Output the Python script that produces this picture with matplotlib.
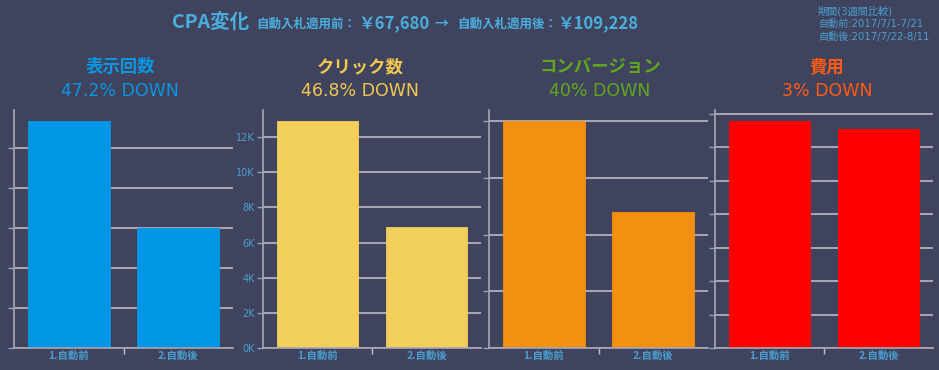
import matplotlib
matplotlib.use("Agg")
import matplotlib.pyplot as plt
from matplotlib.ticker import FuncFormatter

plt.rcParams['font.family'] = ['Noto Sans CJK JP', 'DejaVu Sans']
latin_first = ['DejaVu Sans', 'Noto Sans CJK JP']

# data
categories = ["1.自動前", "2.自動後"]
impressions = [283700, 149800]
clicks = [12900, 6860]
conversions = [20, 12]
cost = [1353600, 1310736]

titles = ["表示回数", "クリック数", "コンバージョン", "費用"]
changes = ["47.2% DOWN", "46.8% DOWN", "40% DOWN", "3% DOWN"]
grid_steps = [50000, 2000, 5, 200000]
period_lines = ["期間(3週間比較)", "自動前:2017/7/1-7/21", "自動後:2017/7/22-8/11"]
cpa_before = "￥67,680"
cpa_after = "￥109,228"

bar_colors = ["#0096E6", "#F2CF5B", "#F39011", "#FF0000"]
title_colors = ["#0A96E0", "#F0C850", "#5FA81E", "#FF5A14"]
bg = "#40435E"
label_col = "#4A9FD0"
grid_col = "#C4C4CC"

W, H = 939, 370
fig = plt.figure(figsize=(W / 100, H / 100), dpi=100, facecolor=bg)

def px(x, y):
    return x / W, 1 - y / H

# axes boxes in pixels: left, right
boxes = [(14, 233), (263, 481), (489, 708), (715, 933)]
title_x = [120, 360, 600, 827]
series = [impressions, clicks, conversions, cost]

for i, (vals, (l, r)) in enumerate(zip(series, boxes)):
    ax = fig.add_axes([l / W, 22 / H, (r - l) / W, 238 / H])
    ax.set_facecolor(bg)
    ax.bar(range(len(categories)), vals, width=0.75, color=bar_colors[i],
           edgecolor=bar_colors[i], linewidth=0.6, zorder=3)
    ax.set_xlim(-0.5, 1.5)
    ax.set_ylim(0, max(vals) * 1.05)
    step = grid_steps[i]
    ax.set_yticks([k * step for k in range(int(max(vals) * 1.05 // step) + 1)])
    ax.grid(axis='y', color=grid_col, linewidth=1.1, zorder=0)
    ax.set_xticks(range(len(categories)))
    ax.set_xticklabels(categories, fontsize=7.5, fontweight='bold', color=label_col)
    ax.tick_params(axis='x', length=0, pad=2)
    ax.set_xticks([0.5], minor=True)
    ax.tick_params(axis='x', which='minor', length=4, color=grid_col, width=1)
    ax.tick_params(axis='y', length=4, color="#8FA0C0", width=1,
                   labelcolor=label_col, pad=2)
    if i == 1:
        ax.yaxis.set_major_formatter(FuncFormatter(lambda v, p: f"{int(v / 1000)}K"))
        for t in ax.get_yticklabels():
            t.set_family(latin_first)
            t.set_fontsize(7)
    else:
        ax.set_yticklabels([])
    for s in ['top', 'right']:
        ax.spines[s].set_visible(False)
    for s in ['left', 'bottom']:
        ax.spines[s].set_color("#A8A8B4")
        ax.spines[s].set_linewidth(1.2)
        ax.spines[s].set_zorder(4)

    fig.text(*px(title_x[i], 67), titles[i], ha='center', va='center',
             fontsize=12.5, fontweight='bold', color=title_colors[i])
    fig.text(*px(title_x[i], 91), changes[i], ha='center', va='center',
             fontsize=12.5, color=title_colors[i], family=latin_first)

# headline
head_col = "#4AAEDD"
fig.text(*px(172, 28), "CPA変化", ha='left', va='baseline', fontsize=14,
         fontweight='bold', color=head_col)
fig.text(*px(256, 28), "自動入札適用前：", ha='left', va='baseline', fontsize=9,
         fontweight='bold', color=head_col)
fig.text(*px(358, 28), cpa_before, ha='left', va='baseline', fontsize=12,
         fontweight='bold', color=head_col)
fig.text(*px(434, 28), "→", ha='left', va='baseline', fontsize=10,
         fontweight='bold', color=head_col)
fig.text(*px(457, 28), "自動入札適用後：", ha='left', va='baseline', fontsize=9,
         fontweight='bold', color=head_col)
fig.text(*px(557, 28), cpa_after, ha='left', va='baseline', fontsize=12,
         fontweight='bold', color=head_col)

for j, line in enumerate(period_lines):
    fig.text(*px(818, 11 + j * 13), line, ha='left', va='center', fontsize=7.3,
             color=label_col, family=latin_first)

fig.savefig("out.png", dpi=100, facecolor=bg)
